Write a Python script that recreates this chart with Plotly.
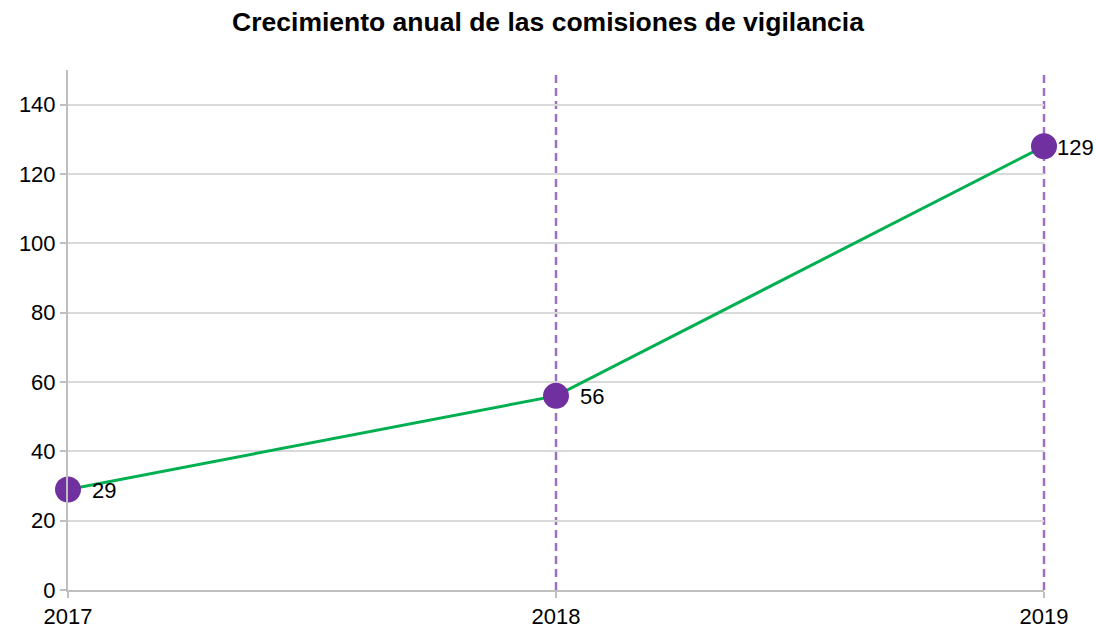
import plotly.graph_objects as go

years = [2017, 2018, 2019]
values = [29, 56, 128]
labels = ["29", "56", "129"]
vlines = [2018, 2019]
y_max = 150
x_range = [2017, 2019]

label_shift = [22, 22, 11]

fig = go.Figure()
fig.add_trace(go.Scatter(
    x=years, y=values, mode="lines+markers",
    line=dict(color="#00B050", width=3),
    marker=dict(color="#7030A0", size=26),
    cliponaxis=False, showlegend=False,
))
for xv in vlines:
    frac = (xv - x_range[0]) / (x_range[1] - x_range[0])
    fig.add_shape(type="line", x0=frac, x1=frac, xref="paper", y0=0, y1=1, yref="paper",
                  line=dict(color="#9E6FC4", width=2.5, dash="8px,5px"), layer="below")
for xv, yv, lab, sh in zip(years, values, labels, label_shift):
    fig.add_annotation(x=xv, y=yv, text=lab, showarrow=False,
                       xanchor="left", yanchor="middle", xshift=sh, yshift=-1,
                       font=dict(family="Liberation Sans, Arial", size=22, color="#000000"))

fig.update_layout(
    width=1096, height=630,
    margin=dict(l=68, r=52, t=70, b=40),
    paper_bgcolor="white", plot_bgcolor="white",
    font=dict(family="Liberation Sans, Arial", size=22, color="#000000"),
    title=dict(text="<b>Crecimiento anual de las comisiones de vigilancia</b>",
               x=0.5, xanchor="center", y=0.965, yanchor="middle",
               font=dict(size=26.5, color="#000000")),
)
fig.update_xaxes(range=x_range, tickvals=years, ticktext=[str(y) for y in years],
                 showgrid=False, showline=True, linecolor="#BFBFBF", linewidth=2,
                 ticks="outside", ticklen=6, tickcolor="#BFBFBF", tickwidth=2,
                 zeroline=False, tickfont=dict(size=22), automargin=False)
fig.update_yaxes(range=[0, y_max], tickvals=[0, 20, 40, 60, 80, 100, 120, 140],
                 showgrid=True, gridcolor="#D9D9D9", gridwidth=1.5,
                 showline=True, linecolor="#BFBFBF", linewidth=2,
                 ticks="outside", ticklen=6, tickcolor="#BFBFBF", tickwidth=2,
                 zeroline=False, tickfont=dict(size=22), automargin=False)

fig.write_html("out.html", config={"displayModeBar": False},
               post_script="document.body.style.margin='0';")
